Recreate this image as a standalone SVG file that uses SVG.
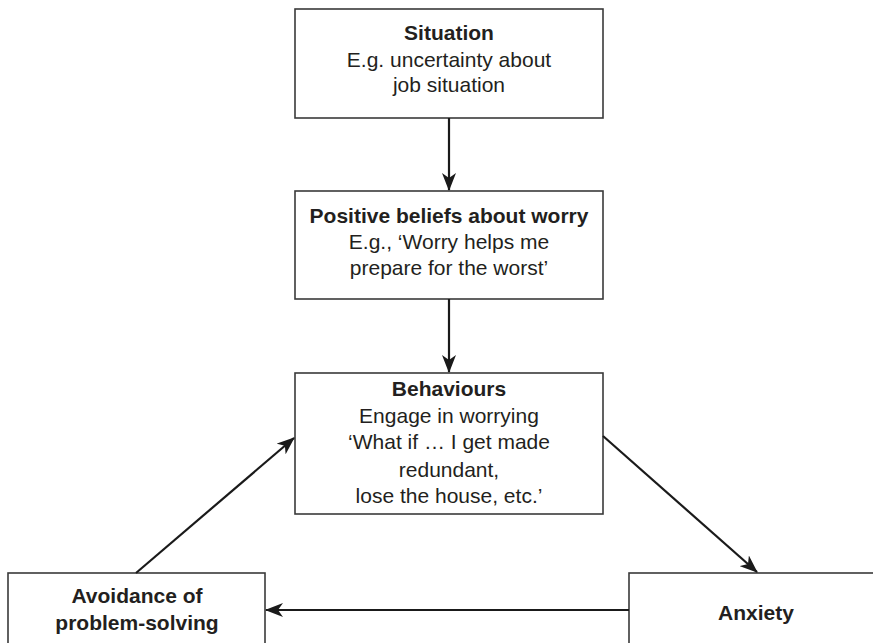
<svg xmlns="http://www.w3.org/2000/svg" width="873" height="643" viewBox="0 0 873 643">
<style>
.box{fill:#fff;stroke:#3a3a3a;stroke-width:1.6}
.t{font-family:"Liberation Sans",Arial,sans-serif;font-size:21px;fill:#231f20;text-anchor:middle}
.b{font-weight:bold}
.c{stroke:#1a1a1a;stroke-width:2.2;fill:none;marker-end:url(#ah)}
</style>
<defs>
<marker id="ah" viewBox="0 0 18 14" refX="17" refY="7" markerWidth="18" markerHeight="14" markerUnits="userSpaceOnUse" orient="auto">
<path d="M0,0 L18,7 L0,14 L5,7 Z" fill="#1a1a1a"/>
</marker>
</defs>
<rect width="873" height="643" fill="#fff"/>
<g id="situation">
<rect class="box" x="295" y="9" width="308" height="109"/>
<text class="t b" x="449" y="40">Situation</text>
<text class="t" x="449" y="67">E.g. uncertainty about</text>
<text class="t" x="449" y="92">job situation</text>
</g>
<g id="beliefs">
<rect class="box" x="295" y="191" width="308" height="108"/>
<text class="t b" x="449" y="223">Positive beliefs about worry</text>
<text class="t" x="449" y="249">E.g., ‘Worry helps me</text>
<text class="t" x="449" y="275">prepare for the worst’</text>
</g>
<g id="behaviours">
<rect class="box" x="295" y="373" width="308" height="141"/>
<text class="t b" x="449" y="396">Behaviours</text>
<text class="t" x="449" y="423">Engage in worrying</text>
<text class="t" x="449" y="449">‘What if … I get made</text>
<text class="t" x="449" y="477">redundant,</text>
<text class="t" x="449" y="503">lose the house, etc.’</text>
</g>
<g id="avoidance">
<rect class="box" x="8" y="573" width="257" height="90"/>
<text class="t b" x="137" y="603">Avoidance of</text>
<text class="t b" x="137" y="630">problem-solving</text>
</g>
<g id="anxiety">
<rect class="box" x="629" y="573" width="260" height="90"/>
<text class="t b" x="756" y="620">Anxiety</text>
</g>
<g id="connectors">
<line class="c" x1="449" y1="118" x2="449" y2="190"/>
<line class="c" x1="449" y1="299" x2="449" y2="372"/>
<line class="c" x1="603" y1="436" x2="757" y2="572"/>
<line class="c" x1="629" y1="610" x2="266" y2="610"/>
<line class="c" x1="136" y1="573" x2="294" y2="438"/>
</g>
</svg>
